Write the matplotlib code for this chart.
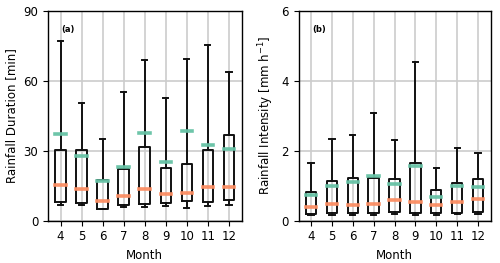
import matplotlib
matplotlib.use("Agg")
import matplotlib.pyplot as plt

months = [4, 5, 6, 7, 8, 9, 10, 11, 12]

# rainfall duration [min]
dur_low = [6.6, 6.6, 4.8, 5.9, 5.9, 6.4, 5.6, 6.4, 6.6]
dur_q1 = [8.1, 7.6, 5.2, 6.6, 7.1, 7.6, 8.5, 8.1, 8.8]
dur_med = [15.2, 13.5, 8.5, 10.5, 13.5, 11.4, 12.0, 14.4, 14.5]
dur_q3 = [30.2, 30.4, 17.6, 22.3, 31.4, 22.7, 24.4, 30.2, 36.9]
dur_high = [77.0, 50.3, 35.0, 55.0, 68.8, 52.8, 69.3, 75.4, 63.9]
dur_mean = [37.0, 27.7, 16.8, 23.1, 37.7, 25.0, 38.3, 32.4, 30.7]

# rainfall intensity [mm h-1]
int_low = [0.17, 0.17, 0.17, 0.17, 0.19, 0.17, 0.17, 0.19, 0.18]
int_q1 = [0.19, 0.22, 0.21, 0.21, 0.25, 0.21, 0.23, 0.22, 0.24]
int_med = [0.40, 0.48, 0.45, 0.49, 0.60, 0.53, 0.46, 0.53, 0.61]
int_q3 = [0.83, 1.13, 1.23, 1.22, 1.18, 1.64, 0.89, 1.07, 1.18]
int_high = [1.64, 2.33, 2.45, 3.09, 2.31, 4.54, 1.50, 2.09, 1.93]
int_mean = [0.72, 0.99, 1.10, 1.28, 1.05, 1.57, 0.68, 1.00, 0.95]


def make_stats(low, q1, med, q3, high, mean):
    return [dict(whislo=a, q1=b, med=c, q3=d, whishi=e, mean=f, fliers=[])
            for a, b, c, d, e, f in zip(low, q1, med, q3, high, mean)]


plt.rcParams['font.size'] = 8.5

fig = plt.figure(figsize=(5.0, 2.63), dpi=100)
ax1 = fig.add_axes([0.096, 0.161, 0.387, 0.798])
ax2 = fig.add_axes([0.597, 0.161, 0.384, 0.798])

panels = [
    (ax1, make_stats(dur_low, dur_q1, dur_med, dur_q3, dur_high, dur_mean),
     'Rainfall Duration [min]', (0, 90), [0, 30, 60, 90], '(a)'),
    (ax2, make_stats(int_low, int_q1, int_med, int_q3, int_high, int_mean),
     'Rainfall Intensity [mm h$^{-1}$]', (0, 6), [0, 2, 4, 6], '(b)'),
]

for ax, stats, ylabel, ylim, yticks, tag in panels:
    ax.set_axisbelow(True)
    ax.grid(True, color='#cccccc', linewidth=1.2)
    ax.bxp(stats, positions=months, widths=0.5, showmeans=True, meanline=True,
           showfliers=False,
           boxprops=dict(color='#111111', linewidth=1.4),
           whiskerprops=dict(color='#111111', linewidth=1.4),
           capprops=dict(color='#111111', linewidth=1.4),
           medianprops=dict(color='#fc8d62', linewidth=2.6, linestyle='-',
                            solid_capstyle='projecting', alpha=0.95),
           meanprops=dict(color='#66c2a5', linewidth=2.6, linestyle='-',
                          solid_capstyle='projecting', alpha=0.95))
    ax.set_ylim(*ylim)
    ax.set_yticks(yticks)
    ax.set_xlim(3.4, 12.6)
    ax.set_xticks(months)
    ax.set_xticklabels([str(m) for m in months])
    ax.set_xlabel('Month')
    ax.set_ylabel(ylabel)
    ax.text(0.07, 0.9, tag, transform=ax.transAxes, fontsize=6, fontweight='bold')
    for s in ax.spines.values():
        s.set_linewidth(1.0)

fig.savefig('out.png', dpi=100)
